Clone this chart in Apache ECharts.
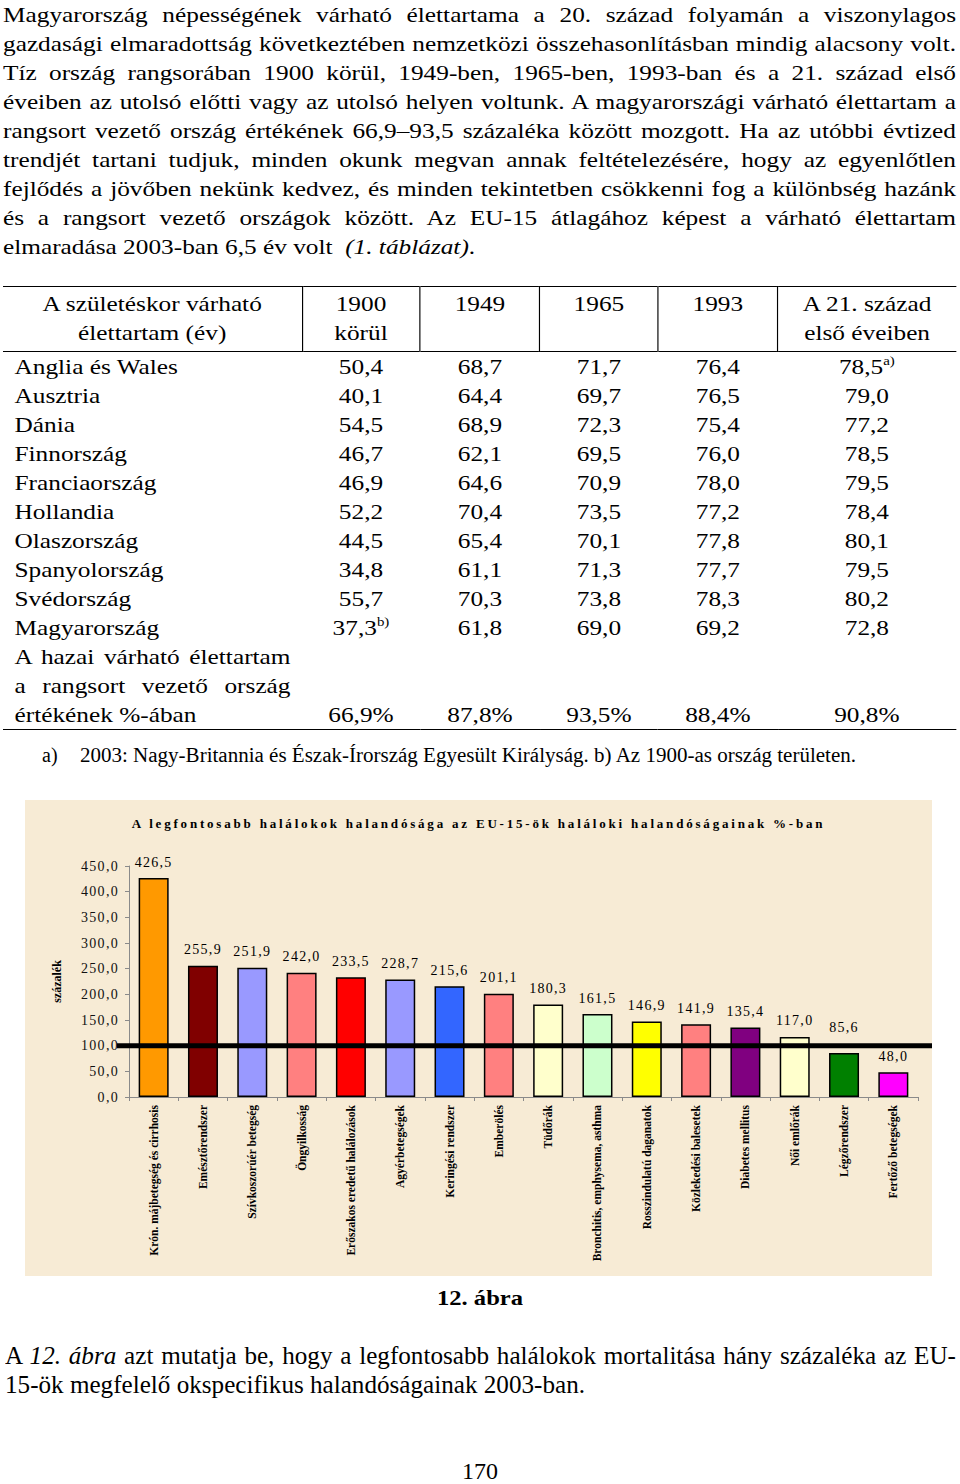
<!DOCTYPE html>
<html><head><meta charset="utf-8">
<script src="https://cdn.jsdelivr.net/npm/echarts@6/dist/echarts.min.js"></script>
<style>
html,body{margin:0;padding:0;background:#fff;}
body{width:960px;height:1484px;position:relative;overflow:hidden;font-family:'Liberation Serif','Times New Roman',serif;color:#000;}
.abs{position:absolute;white-space:nowrap;}
#para{left:3px;top:0;width:828.7px;font-size:22px;line-height:29px;transform:scaleX(1.15);transform-origin:0 0;}
.jl{text-align:justify;text-align-last:justify;white-space:nowrap;}
.ll{text-align:left;white-space:nowrap;}
#tbl{position:absolute;left:3px;top:286px;transform:scaleX(1.15);transform-origin:0 0;border-collapse:collapse;font-size:22px;line-height:29px;width:828.6px;table-layout:fixed;}
#tbl td,#tbl th{padding:0;font-weight:normal;text-align:center;white-space:nowrap;}
#tbl thead tr{border-top:1.5px solid #000;border-bottom:1.5px solid #000;}
#tbl thead th{padding:2px 0 4px;vertical-align:top;}
#tbl thead th+th{border-left:1px solid #000;}
#tbl tbody tr:last-child{border-bottom:1.5px solid #000;}
#tbl tbody tr:last-child td{vertical-align:bottom;}
#tbl td.c0{text-align:left;padding:0 10px;}
.sup{font-size:13px;position:relative;top:-9px;line-height:0;}
#chart{position:absolute;left:25px;top:800px;width:907px;height:476px;background:#f7ebd5;}
#chart text[style*="ttl"]{letter-spacing:2.8px;}
#chart text[style*="num"]{letter-spacing:1.3px;}
.fit{display:inline-block;transform-origin:0 0;}
</style></head>
<body>
<div id="para" class="abs">
<div class="jl">Magyarország népességének várható élettartama a 20. század folyamán a viszonylagos</div>
<div class="jl">gazdasági elmaradottság következtében nemzetközi összehasonlításban mindig alacsony volt.</div>
<div class="jl">Tíz ország rangsorában 1900 körül, 1949-ben, 1965-ben, 1993-ban és a 21. század első</div>
<div class="jl">éveiben az utolsó előtti vagy az utolsó helyen voltunk. A magyarországi várható élettartam a</div>
<div class="jl">rangsort vezető ország értékének 66,9–93,5 százaléka között mozgott. Ha az utóbbi évtized</div>
<div class="jl">trendjét tartani tudjuk, minden okunk megvan annak feltételezésére, hogy az egyenlőtlen</div>
<div class="jl">fejlődés a jövőben nekünk kedvez, és minden tekintetben csökkenni fog a különbség hazánk</div>
<div class="jl">és a rangsort vezető országok között. Az EU-15 átlagához képest a várható élettartam</div>
<div class="ll">elmaradása 2003-ban 6,5 év volt &nbsp;<i>(1. táblázat)</i>.</div>
</div>

<table id="tbl">
<colgroup><col style="width:260px"><col style="width:102.6px"><col style="width:104.3px"><col style="width:102.6px"><col style="width:104.3px"><col style="width:154.8px"></colgroup>
<thead><tr id="thead"></tr></thead>
<tbody id="tbody"></tbody>
</table>

<div class="abs" style="left:42px;top:743px;font-size:20px;line-height:24px;">a)</div>
<div class="abs" style="left:80px;top:743px;font-size:20px;line-height:24px;"><span class="fit" data-fit="776">2003: Nagy-Britannia és Észak-Írország Egyesült Királyság. b) Az 1900-as ország területen.</span></div>

<div id="chart"></div>

<div class="abs" style="left:437px;top:1283px;font-size:22px;line-height:29px;font-weight:bold;"><span class="fit" data-fit="86">12. ábra</span></div>

<div id="para2" class="abs" style="left:5px;top:1341px;font-size:25px;line-height:29px;transform-origin:0 0;">
<div class="jl">A <i>12. ábra</i> azt mutatja be, hogy a legfontosabb halálokok mortalitása hány százaléka az EU-</div>
<div class="ll"><span id="p2l2">15-ök megfelelő okspecifikus halandóságainak 2003-ban.</span></div>
</div>

<div class="abs" style="left:462px;top:1457px;font-size:23px;line-height:29px;"><span class="fit" data-fit="36">170</span></div>

<script>
// ---- table data ----
const headers = ['A születéskor várható<br>élettartam (év)', '1900<br>körül', '1949', '1965', '1993', 'A 21. század<br>első éveiben'];
const countries = ['Anglia és Wales','Ausztria','Dánia','Finnország','Franciaország','Hollandia','Olaszország','Spanyolország','Svédország','Magyarország'];
const v1900 = [50.4, 40.1, 54.5, 46.7, 46.9, 52.2, 44.5, 34.8, 55.7, 37.3];
const v1949 = [68.7, 64.4, 68.9, 62.1, 64.6, 70.4, 65.4, 61.1, 70.3, 61.8];
const v1965 = [71.7, 69.7, 72.3, 69.5, 70.9, 73.5, 70.1, 71.3, 73.8, 69.0];
const v1993 = [76.4, 76.5, 75.4, 76.0, 78.0, 77.2, 77.8, 77.7, 78.3, 69.2];
const v21   = [78.5, 79.0, 77.2, 78.5, 79.5, 78.4, 80.1, 79.5, 80.2, 72.8];
const pctOfLeader = [66.9, 87.8, 93.5, 88.4, 90.8];
const lastRowLabel = ['A hazai várható élettartam', 'a rangsort vezető ország', 'értékének %-ában'];

// ---- chart data ----
const chartTitle = 'A legfontosabb halálokok halandósága az EU-15-ök haláloki halandóságainak %-ban';
const yAxisName = 'százalék';
const categories = ['Krón. májbetegség és cirrhosis','Emésztőrendszer','Szívkoszorúér betegség','Öngyilkosság','Erőszakos eredetű halálozások','Agyérbetegségek','Keringési rendszer','Emberölés','Tüdőrák','Bronchitis, emphysema, asthma','Rosszindulatú daganatok','Közlekedési balesetek','Diabetes mellitus','Női emlőrák','Légzőrendszer','Fertőző betegségek'];
const values = [426.5, 255.9, 251.9, 242.0, 233.5, 228.7, 215.6, 201.1, 180.3, 161.5, 146.9, 141.9, 135.4, 117.0, 85.6, 48.0];
const barColors = ['#FF9900','#800000','#9999FF','#FF8080','#FF0000','#9999FF','#3366FF','#FF8080','#FFFFCC','#CCFFCC','#FFFF00','#FF8080','#800080','#FFFFCC','#008000','#FF00FF'];
const yMin = 0, yMax = 450, yStep = 50;
const reference = 100;

const fmt = v => Number(v).toFixed(1).replace('.', ',');

// build table
const th = document.getElementById('thead');
headers.forEach(h => { const c = document.createElement('th'); c.innerHTML = h; th.appendChild(c); });
const tb = document.getElementById('tbody');
countries.forEach((name, i) => {
  const tr = document.createElement('tr');
  const cells = [v1900[i], v1949[i], v1965[i], v1993[i], v21[i]].map(fmt);
  if (i === 0) cells[4] += '<span class="sup">a)</span>';
  if (name === 'Magyarország') cells[0] += '<span class="sup">b)</span>';
  tr.innerHTML = '<td class="c0">' + name + '</td>' + cells.map(c => '<td>' + c + '</td>').join('');
  tb.appendChild(tr);
});
{
  const tr = document.createElement('tr');
  const lab = lastRowLabel.map((t, k) => '<div class="' + (k < lastRowLabel.length - 1 ? 'jl' : 'll') + '">' + t + '</div>').join('');
  tr.innerHTML = '<td class="c0">' + lab + '</td>' + pctOfLeader.map(p => '<td>' + fmt(p) + '%</td>').join('');
  tb.appendChild(tr);
}

// fit text widths
document.querySelectorAll('.fit').forEach(el => {
  const n = el.getBoundingClientRect().width;
  el.style.transform = 'scaleX(' + (+el.dataset.fit / n) + ')';
});
{
  const n = document.getElementById('p2l2').getBoundingClientRect().width;
  const s = 580 / n;
  const p2 = document.getElementById('para2');
  p2.style.width = (951 / s) + 'px';
  p2.style.transform = 'scaleX(' + s + ')';
}

// chart
const chart = echarts.init(document.getElementById('chart'), null, {renderer: 'svg'});
const numFont = "'Liberation Serif', num";
chart.setOption({
  animation: false,
  backgroundColor: 'transparent',
  title: {
    text: chartTitle, left: 'center', top: 12,
    textStyle: {fontFamily: "'Liberation Serif', ttl", fontSize: 13, fontWeight: 'bold', color: '#000'}
  },
  grid: [
    {left: 104, right: 14, top: 66, bottom: 179},
    {left: 92, right: 0, top: 66, bottom: 179}
  ],
  xAxis: [
    {type: 'category', gridIndex: 0, data: categories,
     axisLine: {lineStyle: {color: '#8a8a8a', width: 1}},
     axisTick: {show: true, length: 4, lineStyle: {color: '#8a8a8a'}},
     axisLabel: {rotate: 90, interval: 0, margin: 8, fontFamily: "'Liberation Serif', cat", fontSize: 11.5, fontWeight: 'bold', color: '#000'}},
    {type: 'value', gridIndex: 1, min: 0, max: 1, show: false}
  ],
  yAxis: [
    {type: 'value', gridIndex: 0, min: yMin, max: yMax, interval: yStep,
     name: yAxisName, nameLocation: 'middle', nameGap: 66,
     nameTextStyle: {fontFamily: "'Liberation Serif', cat", fontSize: 12, fontWeight: 'bold', color: '#000'},
     axisLine: {show: true, lineStyle: {color: '#8a8a8a', width: 1}},
     axisTick: {show: true, length: 4, lineStyle: {color: '#8a8a8a'}},
     splitLine: {show: false},
     axisLabel: {formatter: v => fmt(v), fontFamily: numFont, fontSize: 14, color: '#111', margin: 10}},
    {type: 'value', gridIndex: 1, min: yMin, max: yMax, show: false}
  ],
  series: [
    {type: 'bar', xAxisIndex: 0, yAxisIndex: 0, barWidth: 30,
     data: values.map((v, i) => ({
       value: v,
       itemStyle: {color: barColors[i]},
       label: {distance: (v < reference && reference - v < 30) ? 19 : 9}
     })),
     itemStyle: {borderColor: '#000', borderWidth: 1.5},
     label: {show: true, position: 'top', formatter: p => fmt(p.value), fontFamily: numFont, fontSize: 14, color: '#000'}},
    {type: 'line', xAxisIndex: 1, yAxisIndex: 1, silent: true, symbol: 'none',
     data: [[0, reference], [1, reference]],
     lineStyle: {color: '#000', width: 5}}
  ]
});
</script>
</body></html>
